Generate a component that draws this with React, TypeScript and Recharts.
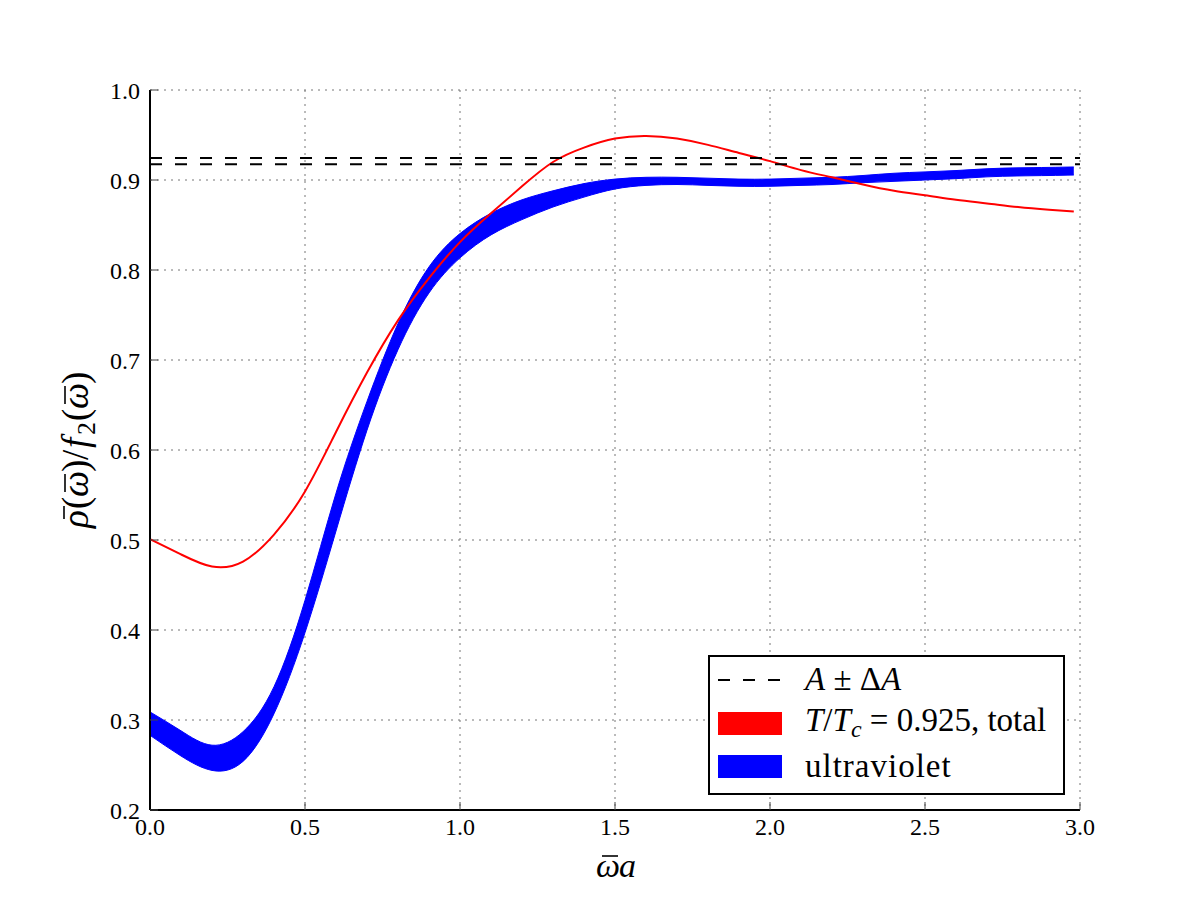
import {
  ComposedChart,
  Line,
  Area,
  XAxis,
  YAxis,
  CartesianGrid,
  ReferenceLine,
  Legend,
  Label,
} from 'recharts'

// omega-bar * a grid
const X = [
  0, 0.1, 0.2, 0.3, 0.4, 0.5, 0.6, 0.7, 0.8, 0.9, 1.0, 1.1, 1.2, 1.3, 1.4, 1.5,
  1.6, 1.7, 1.8, 1.9, 2.0, 2.1, 2.2, 2.3, 2.4, 2.5, 2.6, 2.7, 2.8, 2.9, 2.98,
]

// T/Tc = 0.925, total
const RED = [
  0.501, 0.484, 0.4705, 0.476, 0.506, 0.554, 0.62, 0.686, 0.744, 0.791, 0.831, 0.863, 0.893,
  0.92, 0.936, 0.946, 0.949, 0.946, 0.939, 0.93, 0.921, 0.911, 0.903, 0.895, 0.888, 0.883,
  0.878, 0.874, 0.87, 0.867, 0.865,
]

// ultraviolet band, lower and upper edge
const UV_LO = [
  0.283, 0.26, 0.244, 0.254, 0.307, 0.397, 0.51, 0.622, 0.7115, 0.7745, 0.8135, 0.839, 0.856,
  0.87, 0.881, 0.89, 0.894, 0.895, 0.894, 0.893, 0.893, 0.894, 0.895, 0.897, 0.8985, 0.9,
  0.9015, 0.9035, 0.9045, 0.905, 0.9055,
]
const UV_HI = [
  0.309, 0.288, 0.272, 0.287, 0.337, 0.433, 0.552, 0.654, 0.7405, 0.8035, 0.8405, 0.863, 0.878,
  0.888, 0.896, 0.901, 0.903, 0.903, 0.902, 0.901, 0.901, 0.902, 0.903, 0.905, 0.9075, 0.909,
  0.9105, 0.9125, 0.9135, 0.914, 0.9145,
]

// A - dA, A + dA
const A_LINES = [0.9175, 0.9245]

const X_TICKS = [0, 0.5, 1, 1.5, 2, 2.5, 3]
const Y_TICKS = [0.2, 0.3, 0.4, 0.5, 0.6, 0.7, 0.8, 0.9, 1.0]

const SERIF = '"Liberation Serif", "DejaVu Serif", serif'
const TICK = { fontSize: 24, fill: '#000', fontFamily: SERIF }

const data = X.map((x, i) => ({ x, red: RED[i], uv: [UV_LO[i], UV_HI[i]] }))

function LegendBox() {
  return (
    <svg width={357} height={140} style={{ display: 'block' }}>
      <rect x={1} y={1} width={355} height={138} fill="#fff" stroke="#000" strokeWidth={2} />
      <line x1={10} x2={72} y1={25} y2={25} stroke="#000" strokeWidth={2} strokeDasharray="12 13" />
      <rect x={10} y={57} width={64} height={23} fill="#ff0000" />
      <rect x={10} y={100} width={64} height={23} fill="#0000ff" />
      <g fontFamily={SERIF} fontSize={33} fill="#000">
        <text x={97} y={35}>
          <tspan fontStyle="italic">A</tspan>
          <tspan> ± Δ</tspan>
          <tspan fontStyle="italic">A</tspan>
        </text>
        <text x={97} y={76}>
          <tspan fontStyle="italic">T</tspan>
          <tspan>/</tspan>
          <tspan fontStyle="italic">T</tspan>
          <tspan fontStyle="italic" fontSize={24} dy={6}>c</tspan>
          <tspan dy={-6}> = 0.925, total</tspan>
        </text>
        <text x={97} y={122} letterSpacing={1}>ultraviolet</text>
      </g>
    </svg>
  )
}

// x label: omega-bar a
function XLabel() {
  return (
    <g fontFamily={SERIF} fontSize={34} fontStyle="italic" fill="#000">
      <text x={596} y={877}>ω</text>
      <text x={619} y={877}>a</text>
      <line x1={602} x2={618} y1={856} y2={856} stroke="#000" strokeWidth={1.6} />
    </g>
  )
}

// y label: rho-bar(omega-bar)/f_2(omega-bar), rotated
function YLabel() {
  return (
    <g transform="translate(88,450) rotate(-90) translate(-78,0)" fontFamily={SERIF} fontSize={37} fontStyle="italic" fill="#000">
      <text>
        <tspan x={0}>ρ</tspan>
        <tspan x={19} fontStyle="normal">(</tspan>
        <tspan x={31}>ω</tspan>
        <tspan x={56} fontStyle="normal">)</tspan>
        <tspan x={68} fontStyle="normal">/</tspan>
        <tspan x={80}>f</tspan>
        <tspan x={93} fontSize={26} fontStyle="normal" dy={7}>2</tspan>
        <tspan x={107} fontStyle="normal" dy={-7}>(</tspan>
        <tspan x={119}>ω</tspan>
        <tspan x={144} fontStyle="normal">)</tspan>
      </text>
      <line x1={9} x2={22} y1={-24} y2={-24} stroke="#000" strokeWidth={1.6} />
      <line x1={36} x2={54} y1={-23} y2={-23} stroke="#000" strokeWidth={1.6} />
      <line x1={124} x2={142} y1={-23} y2={-23} stroke="#000" strokeWidth={1.6} />
    </g>
  )
}

export default function App() {
  return (
    <div style={{ position: 'absolute', left: 0, top: 0, width: 1200, height: 900, background: '#fff' }}>
      <ComposedChart
        width={1200}
        height={900}
        data={data}
        margin={{ top: 90, right: 120, bottom: 60, left: 100 }}
      >
        <CartesianGrid
          xAxisId="b"
          yAxisId="l"
          stroke="#777"
          strokeDasharray="2 5"
          strokeWidth={1}
        />
        <XAxis
          xAxisId="b"
          dataKey="x"
          type="number"
          domain={[0, 3]}
          ticks={X_TICKS}
          tickFormatter={(v) => Number(v).toFixed(1)}
          height={30}
          tick={TICK}
          tickSize={-8}
          tickMargin={16}
          tickLine={{ stroke: '#444' }}
          axisLine={{ stroke: '#000', strokeWidth: 2 }}
          allowDataOverflow
        >
          <Label content={() => <XLabel />} />
        </XAxis>
        <XAxis
          xAxisId="t"
          orientation="top"
          dataKey="x"
          type="number"
          domain={[0, 3]}
          ticks={X_TICKS}
          height={0}
          tick={false}
          tickSize={8}
          tickLine={{ stroke: '#444' }}
          axisLine={{ stroke: '#000', strokeWidth: 2 }}
        />
        <YAxis
          yAxisId="l"
          type="number"
          domain={[0.2, 1.0]}
          ticks={Y_TICKS}
          tickFormatter={(v) => Number(v).toFixed(1)}
          width={50}
          tick={TICK}
          tickSize={-8}
          tickMargin={18}
          tickLine={{ stroke: '#444' }}
          axisLine={{ stroke: '#000', strokeWidth: 2 }}
          allowDataOverflow
        >
          <Label content={() => <YLabel />} />
        </YAxis>
        <YAxis
          yAxisId="r"
          orientation="right"
          type="number"
          domain={[0.2, 1.0]}
          ticks={Y_TICKS}
          width={0}
          tick={false}
          tickSize={8}
          tickLine={{ stroke: '#444' }}
          axisLine={{ stroke: '#000', strokeWidth: 2 }}
        />
        <Line
          xAxisId="b"
          yAxisId="l"
          type="natural"
          dataKey="red"
          stroke="#ff0000"
          strokeWidth={2}
          dot={false}
          isAnimationActive={false}
        />
        <Area
          xAxisId="b"
          yAxisId="l"
          type="natural"
          dataKey="uv"
          stroke="#0000ff"
          strokeWidth={1}
          fill="#0000ff"
          fillOpacity={1}
          isAnimationActive={false}
        />
        {A_LINES.map((y) => (
          <ReferenceLine
            key={y}
            xAxisId="b"
            yAxisId="l"
            y={y}
            stroke="#000"
            strokeWidth={2}
            strokeDasharray="12 13"
          />
        ))}
        <Legend
          layout="horizontal"
          verticalAlign="middle"
          align="center"
          content={() => <LegendBox />}
          wrapperStyle={{ left: 708, top: 655, width: 357, height: 140 }}
        />
      </ComposedChart>
    </div>
  )
}
